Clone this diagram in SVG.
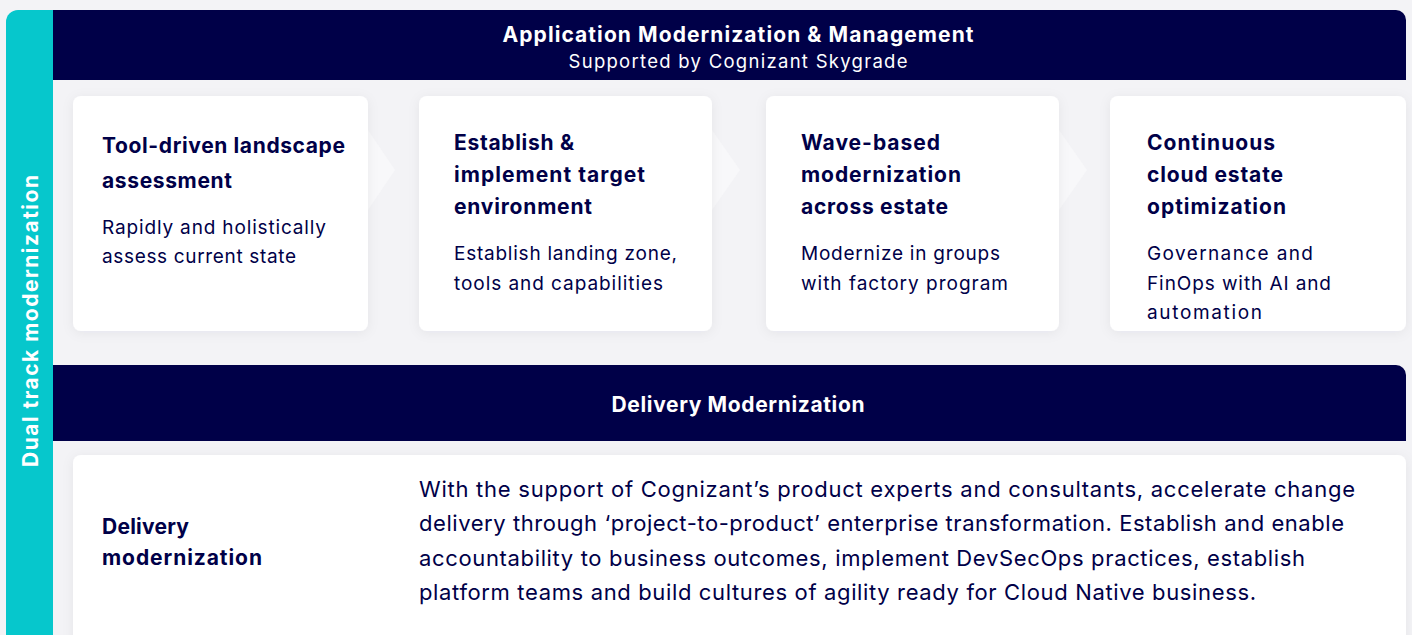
<svg xmlns="http://www.w3.org/2000/svg" width="1412" height="635" viewBox="0 0 1412 635">
<defs>
<filter id="sh" x="-10%" y="-10%" width="120%" height="130%">
<feDropShadow dx="0" dy="2" stdDeviation="6" flood-color="#1a1a4a" flood-opacity="0.06"/>
</filter>
<style>
.t{font-family:Inter,"Liberation Sans",sans-serif;fill:#000048}
.h{font-weight:700;font-size:21px}
.b{font-size:19px}
.p{font-size:22px}
.w{fill:#ffffff}
.card{fill:#ffffff;filter:url(#sh)}
.chev{fill:#f8f8fa}
</style>
</defs>
<rect x="0" y="0" width="1412" height="635" fill="#f3f3f6"/>
<g id="track">
<path d="M18 10 H53 V635 H6 V22 A12 12 0 0 1 18 10 Z" fill="#06c7cc"/>
<text class="t w h" transform="translate(38,321) rotate(-90)" text-anchor="middle" font-size="21" textLength="292">Dual track modernization</text>
</g>
<g id="header-app">
<path d="M53 10 H1396 A10 10 0 0 1 1406 20 V80 H53 Z" fill="#000048"/>
<text class="t w h" x="738" y="42" text-anchor="middle" textLength="471">Application Modernization &amp; Management</text>
<text class="t w" x="738" y="68" text-anchor="middle" font-size="18.5" textLength="339">Supported by Cognizant Skygrade</text>
</g>
<g id="chevrons">
<path class="chev" d="M368 130 L395 170 L368 210 Z"/>
<path class="chev" d="M712 130 L740 170 L712 210 Z"/>
<path class="chev" d="M1059 130 L1087 170 L1059 210 Z"/>
</g>
<g id="card1">
<rect class="card" x="73" y="96" width="295" height="235" rx="8"/>
<text class="t h" x="102" y="153" textLength="243">Tool-driven landscape</text>
<text class="t h" x="102" y="188" textLength="130">assessment</text>
<text class="t b" x="102" y="234" textLength="224">Rapidly and holistically</text>
<text class="t b" x="102" y="263" textLength="194">assess current state</text>
</g>
<g id="card2">
<rect class="card" x="419" y="96" width="293" height="235" rx="8"/>
<text class="t h" x="454" y="150" textLength="120">Establish &amp;</text>
<text class="t h" x="454" y="182" textLength="191">implement target</text>
<text class="t h" x="454" y="214" textLength="138">environment</text>
<text class="t b" x="454" y="260" textLength="223">Establish landing zone,</text>
<text class="t b" x="454" y="290" textLength="209">tools and capabilities</text>
</g>
<g id="card3">
<rect class="card" x="766" y="96" width="293" height="235" rx="8"/>
<text class="t h" x="801" y="150" textLength="139">Wave-based</text>
<text class="t h" x="801" y="182" textLength="160">modernization</text>
<text class="t h" x="801" y="214" textLength="147">across estate</text>
<text class="t b" x="801" y="260" textLength="199">Modernize in groups</text>
<text class="t b" x="801" y="290" textLength="207">with factory program</text>
</g>
<g id="card4">
<rect class="card" x="1110" y="96" width="296" height="235" rx="8"/>
<text class="t h" x="1147" y="150" textLength="128">Continuous</text>
<text class="t h" x="1147" y="182" textLength="136">cloud estate</text>
<text class="t h" x="1147" y="214" textLength="139">optimization</text>
<text class="t b" x="1147" y="260" textLength="166">Governance and</text>
<text class="t b" x="1147" y="290" textLength="184">FinOps with AI and</text>
<text class="t b" x="1147" y="319" textLength="115">automation</text>
</g>
<g id="header-delivery">
<path d="M53 365 H1396 A10 10 0 0 1 1406 375 V441 H53 Z" fill="#000048"/>
<text class="t w h" x="738" y="412" text-anchor="middle" textLength="253">Delivery Modernization</text>
</g>
<g id="card-delivery">
<path class="card" d="M81 455 H1398 A8 8 0 0 1 1406 463 V645 H73 V463 A8 8 0 0 1 81 455 Z"/>
<text class="t h" x="102" y="534" textLength="87">Delivery</text>
<text class="t h" x="102" y="565" textLength="160">modernization</text>
<text class="t p" x="419" y="497" textLength="936">With the support of Cognizant’s product experts and consultants, accelerate change</text>
<text class="t p" x="419" y="531" textLength="925">delivery through ‘project-to-product’ enterprise transformation. Establish and enable</text>
<text class="t p" x="419" y="566" textLength="886">accountability to business outcomes, implement DevSecOps practices, establish</text>
<text class="t p" x="419" y="600" textLength="837">platform teams and build cultures of agility ready for Cloud Native business.</text>
</g>
</svg>
